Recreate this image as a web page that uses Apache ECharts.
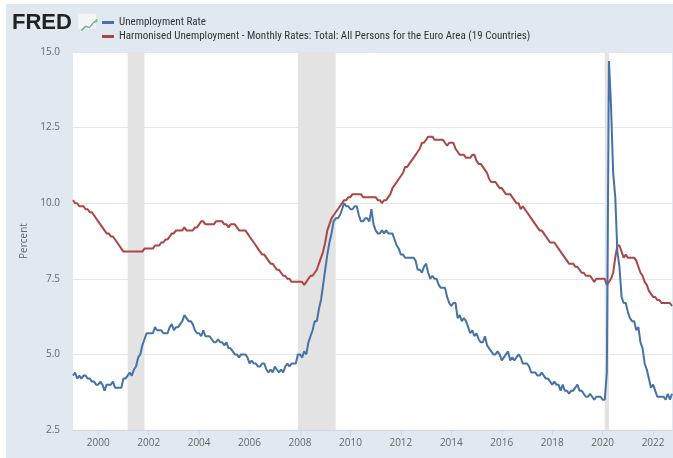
<!DOCTYPE html>
<html>
<head>
<meta charset="utf-8">
<title>Unemployment Rate vs Euro Area</title>
<script src="https://cdn.jsdelivr.net/npm/echarts@6/dist/echarts.min.js"></script>
<style>
  html, body { margin: 0; padding: 0; background: #fff; }
  #chart { position: absolute; left: 6px; top: 4px; width: 667px; height: 454px; }
</style>
</head>
<body>
<div id="chart"></div>
<script>
// monthly, Jan 1999 .. Oct 2022
const startYear = 1999;
const usRate = [
  4.3,4.4,4.2,4.3,4.2,4.3,4.3,4.2,4.2,4.1,4.1,4.0,
  4.0,4.1,4.0,3.8,4.0,4.0,4.0,4.1,3.9,3.9,3.9,3.9,
  4.2,4.2,4.3,4.4,4.3,4.5,4.6,4.9,5.0,5.3,5.5,5.7,
  5.7,5.7,5.7,5.9,5.8,5.8,5.8,5.7,5.7,5.7,5.9,6.0,
  5.8,5.9,5.9,6.0,6.1,6.3,6.2,6.1,6.1,6.0,5.8,5.7,
  5.7,5.6,5.8,5.6,5.6,5.6,5.5,5.4,5.4,5.5,5.4,5.4,
  5.3,5.4,5.2,5.2,5.1,5.0,5.0,4.9,5.0,5.0,5.0,4.9,
  4.7,4.8,4.7,4.7,4.6,4.6,4.7,4.7,4.5,4.4,4.5,4.4,
  4.6,4.5,4.4,4.5,4.4,4.6,4.7,4.6,4.7,4.7,4.7,5.0,
  5.0,4.9,5.1,5.0,5.4,5.6,5.8,6.1,6.1,6.5,6.8,7.3,
  7.8,8.3,8.7,9.0,9.4,9.5,9.5,9.6,9.8,10.0,9.9,9.9,
  9.8,9.8,9.9,9.9,9.6,9.4,9.4,9.5,9.5,9.4,9.8,9.3,
  9.1,9.0,9.0,9.1,9.0,9.1,9.0,9.0,9.0,8.8,8.6,8.5,
  8.3,8.3,8.2,8.2,8.2,8.2,8.2,8.1,7.8,7.8,7.7,7.9,
  8.0,7.7,7.5,7.6,7.5,7.5,7.3,7.2,7.2,7.2,6.9,6.7,
  6.6,6.7,6.7,6.2,6.3,6.1,6.2,6.1,5.9,5.7,5.8,5.6,
  5.7,5.5,5.4,5.4,5.6,5.3,5.2,5.1,5.0,5.0,5.1,5.0,
  4.8,4.9,5.0,5.1,4.8,4.9,4.8,4.9,5.0,4.9,4.7,4.7,
  4.7,4.6,4.4,4.4,4.4,4.3,4.3,4.4,4.3,4.2,4.2,4.1,
  4.0,4.1,4.0,4.0,3.8,4.0,3.8,3.8,3.7,3.8,3.8,3.9,
  4.0,3.8,3.8,3.7,3.6,3.6,3.7,3.6,3.5,3.6,3.6,3.6,
  3.5,3.5,4.4,14.7,13.2,11.0,10.2,8.4,7.9,6.9,6.7,6.7,
  6.4,6.2,6.1,6.1,5.8,5.9,5.4,5.2,4.7,4.5,4.2,3.9,
  4.0,3.8,3.6,3.6,3.6,3.6,3.5,3.7,3.5,3.7
];
const euroRate = [
  10.1,10.0,10.0,9.9,9.9,9.9,9.8,9.8,9.7,9.7,9.6,9.5,
  9.4,9.3,9.2,9.1,9.0,9.0,8.9,8.9,8.8,8.7,8.6,8.5,
  8.4,8.4,8.4,8.4,8.4,8.4,8.4,8.4,8.4,8.4,8.5,8.5,
  8.5,8.5,8.5,8.6,8.6,8.6,8.7,8.7,8.8,8.8,8.9,9.0,
  9.0,9.1,9.1,9.1,9.1,9.2,9.1,9.1,9.1,9.1,9.2,9.2,
  9.3,9.4,9.4,9.3,9.3,9.3,9.3,9.3,9.4,9.4,9.4,9.4,
  9.3,9.3,9.2,9.3,9.3,9.3,9.2,9.1,9.1,9.1,9.1,9.0,
  8.9,8.8,8.7,8.6,8.5,8.4,8.3,8.3,8.2,8.1,8.0,8.0,
  7.9,7.8,7.8,7.7,7.6,7.6,7.5,7.5,7.4,7.4,7.4,7.4,
  7.4,7.4,7.3,7.4,7.5,7.6,7.6,7.7,7.8,8.0,8.2,8.4,
  8.7,9.1,9.3,9.5,9.6,9.7,9.8,9.9,10.0,10.1,10.1,10.2,
  10.2,10.3,10.3,10.3,10.3,10.3,10.2,10.2,10.2,10.2,10.2,10.2,
  10.2,10.1,10.1,10.0,10.1,10.1,10.2,10.3,10.5,10.6,10.7,10.8,
  10.9,11.0,11.2,11.2,11.3,11.4,11.5,11.6,11.7,11.8,12.0,12.0,
  12.1,12.2,12.2,12.2,12.1,12.1,12.1,12.1,12.1,12.0,11.9,12.0,
  12.0,12.0,11.8,11.7,11.6,11.6,11.6,11.5,11.5,11.5,11.6,11.6,
  11.4,11.3,11.3,11.2,11.1,11.0,10.8,10.7,10.7,10.7,10.6,10.5,
  10.5,10.4,10.3,10.3,10.3,10.2,10.1,10.0,10.0,9.8,9.9,9.8,
  9.7,9.6,9.5,9.4,9.3,9.2,9.1,9.1,9.0,8.9,8.8,8.7,
  8.7,8.7,8.6,8.5,8.4,8.3,8.2,8.1,8.0,8.0,8.0,7.9,
  7.9,7.8,7.7,7.7,7.6,7.6,7.6,7.5,7.4,7.5,7.5,7.5,
  7.5,7.5,7.3,7.4,7.5,7.7,8.2,8.6,8.6,8.4,8.2,8.3,
  8.2,8.2,8.2,8.2,8.1,7.9,7.7,7.6,7.4,7.3,7.1,7.0,
  6.9,6.9,6.8,6.8,6.7,6.7,6.7,6.7,6.7,6.6
];
// recessions as [start, end] in decimal years
const recessions = [[2001 + 2/12, 2001 + 10/12], [2007 + 11/12, 2009 + 5/12], [2020 + 1/12, 2020 + 3/12]];
const yearTicks = [2000, 2002, 2004, 2006, 2008, 2010, 2012, 2014, 2016, 2018, 2020, 2022];

const usName = 'Unemployment Rate';
const euroName = 'Harmonised Unemployment - Monthly Rates: Total: All Persons for the Euro Area (19 Countries)';

function toPoints(arr) {
  return arr.map((v, i) => [startYear + i / 12, v]);
}

const chart = echarts.init(document.getElementById('chart'));
const font = 'Open Sans, Noto Sans, sans-serif';
const option = {
  backgroundColor: '#e1e9f0',
  animation: false,
  color: ['#4572a7', '#aa4643'],
  textStyle: { fontFamily: font },
  graphic: [
    { type: 'text', left: 6, top: 8, style: { text: 'FRED', font: 'bold 22px Liberation Sans, Arial, sans-serif', fill: '#222' } },
    { type: 'rect', left: 72, top: 10, shape: { width: 18, height: 15 }, style: { fill: '#f2f4f6' } },
    { type: 'polyline', left: 73, top: 13, shape: { points: [[0, 11], [4, 7], [8, 8], [12, 3], [16, 0]] }, style: { stroke: '#7cb342', lineWidth: 1.2, fill: null } },
    { type: 'polyline', left: 73, top: 15, shape: { points: [[0, 9], [4, 6], [8, 7], [12, 2], [16, 1]] }, style: { stroke: '#7aa7d6', lineWidth: 1, fill: null } }
  ],
  legend: {
    orient: 'vertical',
    left: 91,
    top: 8,
    itemGap: 3,
    itemWidth: 12,
    itemHeight: 3,
    icon: 'rect',
    selectedMode: false,
    textStyle: { fontSize: 11, color: '#333', fontFamily: 'Liberation Sans Narrow, Roboto Condensed, ' + font },
    data: [usName, euroName]
  },
  grid: { left: 67, right: 1, top: 48, bottom: 28, backgroundColor: '#fff', show: true, borderWidth: 0 },
  xAxis: {
    type: 'value',
    min: startYear,
    max: startYear + (usRate.length - 1) / 12,
    axisLine: { show: true, lineStyle: { color: '#ccd6eb' } },
    axisTick: { show: true, length: 5, lineStyle: { color: '#ccd6eb' }, customValues: yearTicks },
    axisLabel: { color: '#666', fontSize: 10, margin: 8, customValues: yearTicks, formatter: v => String(Math.round(v)) },
    splitLine: { show: false }
  },
  yAxis: {
    type: 'value',
    min: 2.5,
    max: 15,
    interval: 2.5,
    name: 'Percent',
    nameLocation: 'middle',
    nameGap: 44,
    nameTextStyle: { color: '#666', fontSize: 10 },
    axisLine: { show: false },
    axisTick: { show: false },
    axisLabel: { color: '#666', fontSize: 10, margin: 13, formatter: v => v.toFixed(1) },
    splitLine: { lineStyle: { color: '#e6e6e6' } }
  },
  series: [
    {
      name: usName,
      type: 'line',
      data: toPoints(usRate),
      showSymbol: false,
      lineStyle: { width: 2 },
      z: 3,
      markArea: {
        silent: true,
        itemStyle: { color: '#e3e3e3' },
        data: recessions.map(r => [{ xAxis: r[0] }, { xAxis: r[1] }])
      }
    },
    {
      name: euroName,
      type: 'line',
      data: toPoints(euroRate),
      showSymbol: false,
      lineStyle: { width: 2 },
      z: 2
    }
  ]
};
chart.setOption(option);
</script>
</body>
</html>
